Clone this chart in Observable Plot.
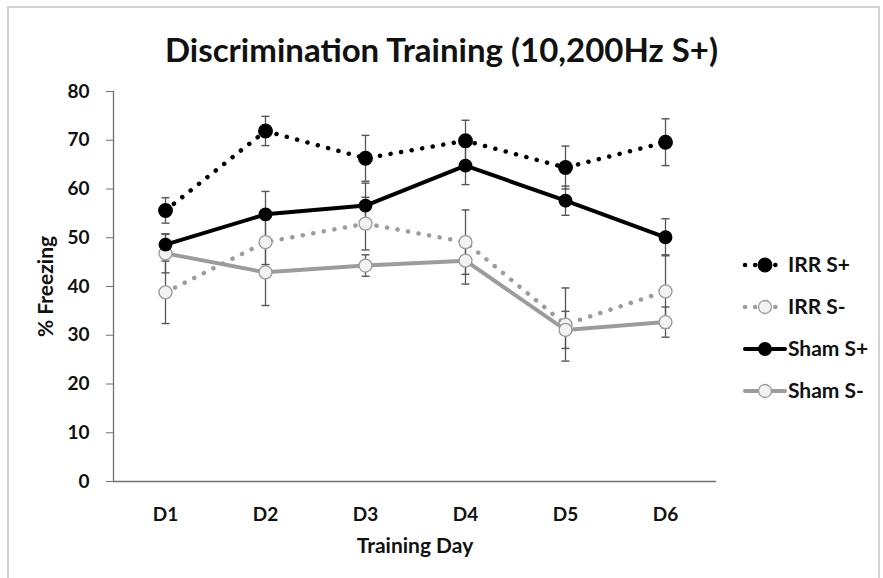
<!DOCTYPE html>
<html><head><meta charset="utf-8">
<script src="https://cdn.jsdelivr.net/npm/d3@7"></script>
<script src="https://cdn.jsdelivr.net/npm/@observablehq/plot@0.6"></script>
<style>
body{margin:0;background:#fff;}
#wrap{position:relative;width:883px;height:578px;overflow:hidden;font-family:Lato,"Open Sans",sans-serif;background:#fff;}
#border{position:absolute;left:7px;top:6px;width:873px;height:620px;border:2px solid #d2d2d2;box-sizing:border-box;}
#chart{position:absolute;left:0;top:0;}
#legend{position:absolute;left:0;top:0;}
#title{position:absolute;left:0;width:883px;top:29px;text-align:center;font-weight:bold;font-size:33px;color:#111;}
</style></head><body>
<div id="wrap"><div id="border"></div><div id="chart"></div><svg id="legend" width="883" height="578"></svg><div id="title">Discrimination Training (10,200Hz S+)</div></div>
<script>
// ---- data ----
const days = ["D1","D2","D3","D4","D5","D6"];
const seriesNames = ["IRR S+","IRR S-","Sham S+","Sham S-"];
const irrPlus     = [55.6, 71.9, 66.3, 69.9, 64.4, 69.6];
const irrPlusErr  = [2.6, 3.0, 4.7, 4.2, 4.4, 4.8];
const irrMinus    = [38.8, 49.1, 52.9, 49.1, 32.2, 39.0];
const irrMinusErr = [6.4, 4.6, 5.4, 6.6, 7.5, 7.5];
const shamPlus    = [48.6, 54.8, 56.6, 64.8, 57.6, 50.1];
const shamPlusErr = [2.1, 4.7, 4.6, 3.9, 3.0, 3.8];
const shamMinus   = [46.8, 42.9, 44.3, 45.3, 31.1, 32.7];
const shamMinusErr= [4.0, 6.8, 2.2, 4.8, 3.8, 3.1];
const yTicks = [0,10,20,30,40,50,60,70,80];

// ---- build table ----
const valuesBySeries = {"IRR S+":[irrPlus,irrPlusErr],"IRR S-":[irrMinus,irrMinusErr],"Sham S+":[shamPlus,shamPlusErr],"Sham S-":[shamMinus,shamMinusErr]};
const rows = [];
for (const s of seriesNames) {
  const [v,e] = valuesBySeries[s];
  days.forEach((d,i)=>rows.push({series:s, day:d, value:v[i], err:e[i]}));
}
const style = {
  "IRR S+": {stroke:"#000", dash:"0.1,10.6", width:4.5, fill:"#000", mstroke:"#000", r:6.8},
  "IRR S-": {stroke:"#9c9c9c", dash:"0.1,10.6", width:4.5, fill:"#f2f2f2", mstroke:"#9a9a9a", r:6.5},
  "Sham S+": {stroke:"#000", dash:null, width:4, fill:"#000", mstroke:"#000", r:6.3},
  "Sham S-": {stroke:"#9c9c9c", dash:null, width:4, fill:"#f2f2f2", mstroke:"#9a9a9a", r:6.5}
};
const cap = {draw(ctx,size){const r=Math.sqrt(size/Math.PI);ctx.moveTo(-r,0);ctx.lineTo(r,0);}};
const drawOrder = ["IRR S-","Sham S-","IRR S+","Sham S+"];

const marks = [
  Plot.ruleY([0], {stroke:"#707070", strokeWidth:1.3}),
  Plot.frame({anchor:"left", stroke:"#707070", strokeWidth:1.3}),
  Plot.axisY({ticks:yTicks, tickSize:7, tickPadding:17, fontSize:19, fontWeight:"bold", stroke:"#707070", fill:"#111", label:null}),
  Plot.axisY({ticks:[], tickSize:0, fontSize:21, fontWeight:"bold", fill:"#111",
    label:"% Freezing", labelAnchor:"center", labelArrow:false, labelOffset:75}),
  Plot.axisX({tickSize:0, tickPadding:26, fontSize:19, fontWeight:"bold", fill:"#111", label:null}),
  Plot.axisX({ticks:[], tickSize:0, fontSize:21, fontWeight:"bold", fill:"#111",
    label:"Training Day", labelAnchor:"center", labelArrow:false, labelOffset:71})
];
for (const s of drawOrder) {
  const data = rows.filter(r=>r.series===s);
  marks.push(Plot.ruleX(data, {x:"day", y1:d=>d.value-d.err, y2:d=>d.value+d.err, stroke:"#555", strokeWidth:1.3}));
  marks.push(Plot.dot(data, {x:"day", y:d=>d.value-d.err, symbol:cap, r:4, stroke:"#555", strokeWidth:1.4}));
  marks.push(Plot.dot(data, {x:"day", y:d=>d.value+d.err, symbol:cap, r:4, stroke:"#555", strokeWidth:1.4}));
}
for (const s of drawOrder) {
  const data = rows.filter(r=>r.series===s);
  const st = style[s];
  marks.push(Plot.line(data, {x:"day", y:"value", stroke:st.stroke, strokeWidth:st.width, strokeDasharray:st.dash, strokeLinecap:"round", strokeLinejoin:"round"}));
  marks.push(Plot.dot(data, {x:"day", y:"value", r:st.r, fill:st.fill, stroke:st.mstroke, strokeWidth:1.3}));
}

const chart = Plot.plot({
  width:883, height:578,
  marginLeft:113, marginRight:167, marginTop:91, marginBottom:97,
  style:{fontFamily:"Lato, 'Open Sans', sans-serif", fontSize:"19px", fontWeight:"bold", background:"transparent", color:"#111"},
  x:{type:"point", domain:days, padding:0.5},
  y:{domain:[0,80]},
  marks
});
document.getElementById("chart").appendChild(chart);

// ---- legend ----
const lg = d3.select("#legend");
const legendY = {"IRR S+":265, "IRR S-":307, "Sham S+":349, "Sham S-":391};
for (const s of seriesNames) {
  const st = style[s], y = legendY[s];
  const g = lg.append("g");
  g.append("line").attr("x1",745).attr("x2",785).attr("y1",y).attr("y2",y)
    .attr("stroke",st.stroke).attr("stroke-width",st.width).attr("stroke-linecap","round")
    .attr("stroke-dasharray", st.dash ? "0.1,10" : null);
  g.append("circle").attr("cx",765).attr("cy",y).attr("r",st.r)
    .attr("fill",st.fill).attr("stroke",st.mstroke).attr("stroke-width",1.3);
  g.append("text").attr("x",788).attr("y",y+7).text(s)
    .attr("font-family","Lato, 'Open Sans', sans-serif").attr("font-weight","bold").attr("font-size",21).attr("fill","#111");
}
</script>
</body></html>
